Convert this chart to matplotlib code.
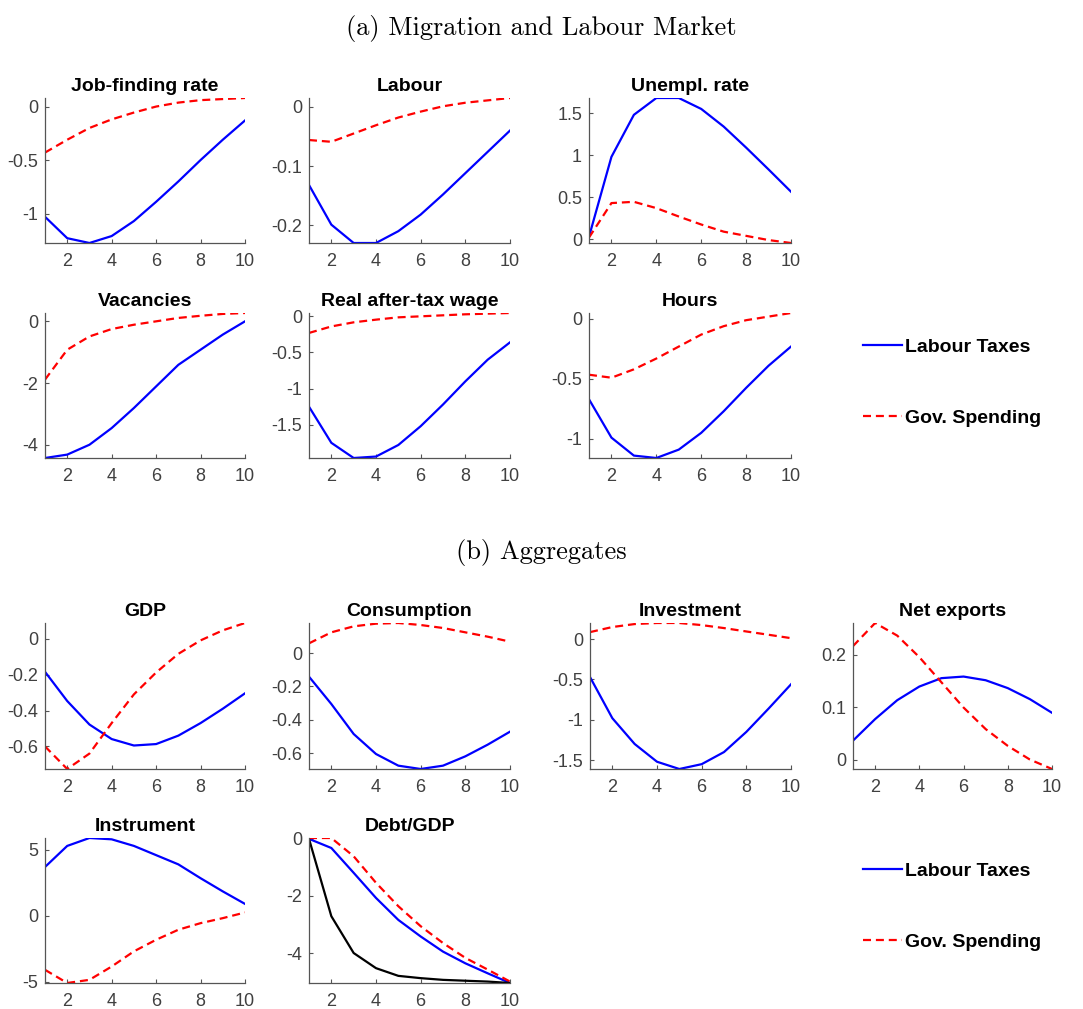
import matplotlib
matplotlib.use('Agg')
import matplotlib.pyplot as plt
from matplotlib.lines import Line2D
from matplotlib.ticker import FormatStrFormatter

# Horizon (quarters)
periods = [1, 2, 3, 4, 5, 6, 7, 8, 9, 10]
xticks = [2, 4, 6, 8, 10]

# (a) Migration and Labour Market
jobfind_tax = [-1.03, -1.23, -1.275, -1.21, -1.07, -0.89, -0.70, -0.50, -0.31, -0.13]
jobfind_gov = [-0.43, -0.31, -0.20, -0.12, -0.056, 0.0, 0.037, 0.06, 0.07, 0.08]
labour_tax = [-0.132, -0.199, -0.23, -0.23, -0.21, -0.182, -0.148, -0.112, -0.076, -0.040]
labour_gov = [-0.056, -0.059, -0.045, -0.031, -0.018, -0.008, 0.001, 0.007, 0.011, 0.015]
unempl_tax = [0.03, 0.98, 1.48, 1.68, 1.68, 1.55, 1.34, 1.09, 0.83, 0.565]
unempl_gov = [0.02, 0.43, 0.445, 0.37, 0.27, 0.175, 0.09, 0.04, -0.01, -0.045]
vac_tax = [-4.43, -4.32, -4.0, -3.46, -2.81, -2.11, -1.41, -0.92, -0.43, 0.0]
vac_gov = [-1.89, -0.92, -0.49, -0.25, -0.11, 0.0, 0.11, 0.18, 0.24, 0.27]
wage_tax = [-1.25, -1.75, -1.96, -1.94, -1.78, -1.52, -1.22, -0.90, -0.60, -0.36]
wage_gov = [-0.23, -0.14, -0.083, -0.046, -0.014, 0.0, 0.014, 0.028, 0.037, 0.046]
hours_tax = [-0.67, -0.99, -1.14, -1.16, -1.09, -0.95, -0.77, -0.575, -0.39, -0.23]
hours_gov = [-0.465, -0.49, -0.42, -0.33, -0.23, -0.13, -0.06, -0.01, 0.02, 0.05]

# (b) Aggregates
gdp_tax = [-0.184, -0.347, -0.478, -0.559, -0.595, -0.587, -0.54, -0.47, -0.39, -0.304]
gdp_gov = [-0.60, -0.726, -0.64, -0.47, -0.31, -0.188, -0.084, -0.009, 0.047, 0.088]
cons_tax = [-0.142, -0.306, -0.486, -0.606, -0.676, -0.696, -0.676, -0.62, -0.55, -0.472]
cons_gov = [0.058, 0.124, 0.16, 0.176, 0.18, 0.168, 0.15, 0.124, 0.098, 0.068]
inv_tax = [-0.47, -0.98, -1.30, -1.52, -1.61, -1.55, -1.40, -1.15, -0.86, -0.56]
inv_gov = [0.087, 0.15, 0.187, 0.2, 0.2, 0.174, 0.137, 0.095, 0.054, 0.012]
nx_tax = [0.036, 0.077, 0.113, 0.139, 0.155, 0.158, 0.151, 0.136, 0.115, 0.089]
nx_gov = [0.216, 0.26, 0.236, 0.195, 0.147, 0.099, 0.058, 0.026, 0.0, -0.018]
instr_tax = [3.7, 5.3, 5.9, 5.8, 5.3, 4.6, 3.9, 2.85, 1.85, 0.9]
instr_gov = [-4.1, -5.1, -4.86, -3.85, -2.7, -1.82, -1.06, -0.56, -0.18, 0.25]
debt_tax = [0.0, -0.32, -1.19, -2.07, -2.84, -3.42, -3.95, -4.36, -4.71, -5.05]
debt_gov = [0.03, 0.03, -0.61, -1.54, -2.36, -3.06, -3.65, -4.17, -4.58, -5.0]
debt_target = [0.0, -2.71, -4.0, -4.53, -4.8, -4.88, -4.94, -4.97, -5.0, -5.05]

# y ticks per panel
yt_jobfind = [-1, -0.5, 0]
yt_labour = [-0.2, -0.1, 0]
yt_unempl = [0, 0.5, 1, 1.5]
yt_vac = [-4, -2, 0]
yt_wage = [-1.5, -1, -0.5, 0]
yt_hours = [-1, -0.5, 0]
yt_gdp = [-0.6, -0.4, -0.2, 0]
yt_cons = [-0.6, -0.4, -0.2, 0]
yt_inv = [-1.5, -1, -0.5, 0]
yt_nx = [0, 0.1, 0.2]
yt_instr = [-5, 0, 5]
yt_debt = [-4, -2, 0]

W, H = 1083, 1009
AXCOL = '#555555'
TXTCOL = '#404040'
SANS = ['Liberation Sans', 'DejaVu Sans']
DASH = (3.6, 2.2)


def add_panel(fig, box, title, tax, gov, yticks, extra=None):
	# box given in pixels: left, top, right, bottom
	l, t, r, b = box
	ax = fig.add_axes([l / W, 1 - b / H, (r - l) / W, (b - t) / H])
	ax.plot(periods, tax, color='b', lw=1.6)
	ax.plot(periods, gov, color='r', lw=1.6, ls='--', dashes=DASH)
	series = tax + gov
	if extra is not None:
		ax.plot(periods, extra, color='k', lw=1.6)
		series = series + extra
	# tight limits like matlab "axis tight"
	ax.set_xlim(1, 10)
	ax.set_ylim(min(series), max(series))
	ax.set_xticks(xticks)
	ax.set_yticks(yticks)
	ax.yaxis.set_major_formatter(FormatStrFormatter('%g'))
	for s in ['top', 'right']:
		ax.spines[s].set_visible(False)
	for s in ['left', 'bottom']:
		ax.spines[s].set_color(AXCOL)
		ax.spines[s].set_linewidth(0.9)
	ax.tick_params(axis='both', direction='in', length=3, width=0.8, color=AXCOL,
		labelcolor=TXTCOL, labelsize=13)
	ax.tick_params(axis='x', pad=7)
	ax.tick_params(axis='y', pad=5)
	for lab in ax.get_xticklabels() + ax.get_yticklabels():
		lab.set_family(SANS)
	ax.set_title(title, fontsize=14, fontweight='bold', family=SANS, pad=5)
	return ax


def add_legend(fig, ycenter):
	h = [Line2D([], [], color='b', lw=1.6),
		Line2D([], [], color='r', lw=1.6, ls='--', dashes=DASH)]
	fig.legend(h, ['Labour Taxes', 'Gov. Spending'], loc='center left',
		bbox_to_anchor=(863 / W, 1 - ycenter / H), frameon=False,
		handlelength=2.0, handletextpad=0.15, labelspacing=2.75, borderpad=0,
		borderaxespad=0, prop={'family': SANS, 'weight': 'bold', 'size': 14})


fig = plt.figure(figsize=(W / 100, H / 100), dpi=100)

fig.text(0.5, 1 - 29 / H, '(a) Migration and Labour Market', ha='center', va='center',
	fontsize=19, family='cmr10')
fig.text(0.5, 1 - 552 / H, '(b) Aggregates', ha='center', va='center',
	fontsize=19, family='cmr10')

# top block
add_panel(fig, (45, 98, 245, 243), 'Job-finding rate', jobfind_tax, jobfind_gov, yt_jobfind)
add_panel(fig, (309, 98, 510, 243), 'Labour', labour_tax, labour_gov, yt_labour)
add_panel(fig, (589, 98, 791, 243), 'Unempl. rate', unempl_tax, unempl_gov, yt_unempl)
add_panel(fig, (45, 313, 245, 458), 'Vacancies', vac_tax, vac_gov, yt_vac)
add_panel(fig, (309, 313, 510, 458), 'Real after-tax wage', wage_tax, wage_gov, yt_wage)
add_panel(fig, (589, 313, 791, 458), 'Hours', hours_tax, hours_gov, yt_hours)
add_legend(fig, 382.5)

# bottom block
add_panel(fig, (45, 623, 245, 769), 'GDP', gdp_tax, gdp_gov, yt_gdp)
add_panel(fig, (309, 623, 510, 769), 'Consumption', cons_tax, cons_gov, yt_cons)
add_panel(fig, (590, 623, 791, 769), 'Investment', inv_tax, inv_gov, yt_inv)
add_panel(fig, (853, 623, 1052, 769), 'Net exports', nx_tax, nx_gov, yt_nx)
add_panel(fig, (45, 838, 245, 983), 'Instrument', instr_tax, instr_gov, yt_instr)
add_panel(fig, (309, 838, 510, 983), 'Debt/GDP', debt_tax, debt_gov, yt_debt, extra=debt_target)
add_legend(fig, 906.5)

fig.savefig('out.png', dpi=100)
plt.close(fig)
